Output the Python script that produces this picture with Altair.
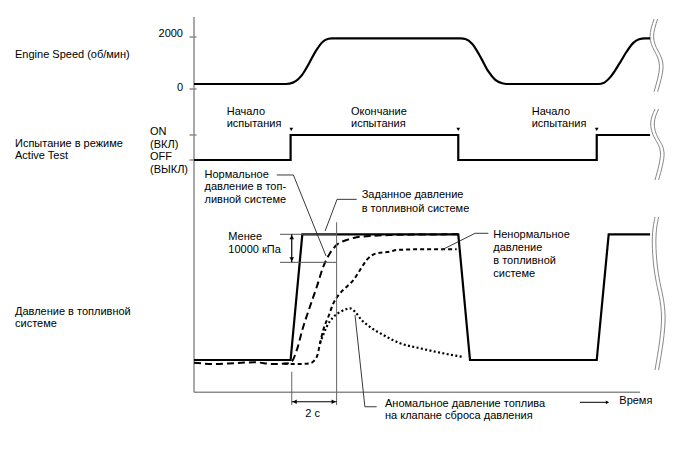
import altair as alt
import pandas as pd

FONT = "Liberation Sans"
GRAY = "#8c8c8c"

# ---------------- data (time in seconds) ----------------
# Engine speed, rpm
eng_t = [0, 4.0, 4.3, 4.7, 5.0, 5.3, 5.6, 5.85, 6.0, 11.6, 11.8, 12.1, 12.5, 12.8, 13.1,
         13.4, 13.6, 17.6, 17.8, 18.1, 18.5, 18.8, 19.1, 19.35, 19.6, 19.83]
eng_rpm = [0, 0, 60, 400, 900, 1450, 1850, 1980, 2000, 2000, 1970, 1750, 1100, 550, 180,
           30, 0, 0, 40, 300, 900, 1400, 1800, 1960, 2000, 2000]

# Active test state (0 = OFF, 1 = ON)
test_t = [0, 4.2, 4.2, 11.49, 11.49, 17.51, 17.51, 19.83]
test_on = [0, 0, 1, 1, 0, 0, 1, 1]
switch_t = [4.23, 11.49, 17.51]

# Fuel pressure, % of target
cmd_t = [0, 4.2, 4.71, 11.49, 12.0, 17.51, 18.03, 19.83]
cmd_p = [0, 0, 100, 100, 0, 0, 100, 100]

norm_t = [0, 0.87, 1.74, 2.61, 3.48, 4.17, 4.25, 4.47, 4.75, 5.04, 5.34, 5.62, 5.91,
          6.20, 6.64, 7.07, 7.65, 8.52, 9.83, 11.48]
norm_p = [-2.1, -3.2, -2.6, -1.8, -3.2, -2.4, -1.4, 8.0, 26.5, 42.4, 58.3, 74.2, 84.9,
          91.5, 95.5, 97.6, 98.6, 99.4, 99.8, 100]

abn_t = [3.9, 4.25, 4.61, 5.04, 5.34, 5.48, 5.62, 5.84, 6.06, 6.35, 6.64, 6.93, 7.22,
         7.51, 7.94, 8.52, 8.81, 9.83, 11.42]
abn_p = [-3.0, -3.2, -3.2, -2.6, 2.6, 13.3, 23.9, 34.4, 45.1, 53.1, 58.3, 63.6, 71.6,
         79.6, 84.9, 86.2, 87.5, 88.1, 88.1]

rel_t = [5.48, 5.77, 6.06, 6.35, 6.64, 6.78, 7.0, 7.29, 7.65, 8.23, 8.96, 9.83, 10.70, 11.64]
rel_p = [13.3, 26.5, 34.2, 38.2, 40.6, 41.1, 38.4, 31.8, 26.3, 19.9, 13.3, 9.3, 5.8, 2.6]

# Annotation geometry in data units (t, p)
band_t = [3.74, 6.20]
band_p = [100, 77.7]
meas_t = [4.25, 6.20]          # the "2 с" interval
leader_names = ["normal", "target", "abnormal", "relief"]
leader_t = [[3.60, 4.32, 5.74], [7.07, 6.22, 5.70], [12.80, 12.22, 10.77], [7.94, 7.43, 7.00]]
leader_p = [[147.2, 147.2, 82.7], [127.8, 127.8, 102.6], [100.8, 100.8, 87.5], [-37.2, -37.2, 35.8]]

# Texts
TXT_ENGINE = "Engine Speed (об/мин)"
TXT_TEST = "Испытание в режиме\nActive Test"
TXT_ONOFF = "ON\n(ВКЛ)\nOFF\n(ВЫКЛ)"
TXT_PRESS = "Давление в топливной\nсистеме"
TXT_START = "Начало\nиспытания"
TXT_END = "Окончание\nиспытания"
TXT_NORMAL = "Нормальное\nдавление в топ-\nливной системе"
TXT_TARGET = "Заданное давление\nв топливной системе"
TXT_LESS = "Менее\n10000 кПа"
TXT_ABN = "Ненормальное\nдавление\nв топливной\nсистеме"
TXT_REL = "Аномальное давление топлива\nна клапане сброса давления"
TXT_TIME = "Время"
TXT_2S = "2 с"
TICK_2000 = "2000"
TICK_0 = "0"

# ---------------- scales ----------------
xs = alt.Scale(domain=[0, 20], range=[194, 654])
eng_y = alt.Scale(domain=[0, 2000], range=[84, 38.3])
test_y = alt.Scale(domain=[0, 1], range=[160, 135])
p_y = alt.Scale(domain=[0, 100], range=[360, 234.3])
px_x = alt.Scale(domain=[0, 688], range=[0, 688])
px_y = alt.Scale(domain=[0, 463], range=[0, 463])


def df(t, v):
    return pd.DataFrame({"t": t, "v": v, "i": list(range(len(t)))})


def series(t, v, yscale, dash=None, width=2.0, interp="linear", color="black"):
    kw = dict(color=color, strokeWidth=width, interpolate=interp)
    if dash:
        kw["strokeDash"] = dash
    return alt.Chart(df(t, v)).mark_line(**kw).encode(
        x=alt.X("t:Q", scale=xs, axis=None),
        y=alt.Y("v:Q", scale=yscale, axis=None),
        order="i:Q",
    )


def label(text, x, y, align="left", lh=12.7):
    return alt.Chart(pd.DataFrame({"label": [text]})).mark_text(
        align=align, baseline="alphabetic", font=FONT, fontSize=11,
        lineBreak="\n", lineHeight=lh, color="black"
    ).encode(x=alt.value(x), y=alt.value(y), text="label:N")


def prule(x, y, x2=None, y2=None, color=GRAY, width=1.5):
    enc = dict(x=alt.value(x), y=alt.value(y))
    enc["x2"] = alt.value(x2 if x2 is not None else x)
    enc["y2"] = alt.value(y2 if y2 is not None else y)
    return alt.Chart(pd.DataFrame({"a": [0]})).mark_rule(color=color, strokeWidth=width).encode(**enc)


layers = []

# Frame (axes)
layers.append(prule(194, 17, y2=392.3))
layers.append(prule(194, 392.3, x2=640))
for ty in [37, 89, 135, 160]:
    layers.append(prule(189.5, ty, x2=196.5))

# Break symbols (decoration), px coordinates
break_x = [[654, 650, 654.5, 659.5, 654], [655, 650.7, 654.5, 660.5, 655],
           [655, 652.3, 655.5, 661.5, 655]]
break_y = [[19, 36.7, 51, 66.7, 91.7], [109, 123, 138, 153, 180],
           [217, 240, 278, 317, 370]]
rows = []
for k, (bx, by) in enumerate(zip(break_x, break_y)):
    for off in (0, 3.6):
        for j, (a, b) in enumerate(zip(bx, by)):
            rows.append({"x": a + off, "y": b, "g": f"{k}-{off}", "i": j})
layers.append(
    alt.Chart(pd.DataFrame(rows)).mark_line(color="#7a7a7a", strokeWidth=0.9, interpolate="natural").encode(
        x=alt.X("x:Q", scale=px_x, axis=None),
        y=alt.Y("y:Q", scale=px_y, axis=None),
        detail="g:N",
        order="i:Q",
    )
)

# Series
layers.append(series(eng_t, eng_rpm, eng_y, interp="monotone", width=2.2))
layers.append(series(test_t, test_on, test_y, width=2.2))
layers.append(series(cmd_t, cmd_p, p_y, width=2.2))
layers.append(series(norm_t, norm_p, p_y, dash=[7, 4], width=2.0, interp="monotone"))
layers.append(series(abn_t, abn_p, p_y, dash=[4, 3], width=2.0, interp="monotone"))
layers.append(series(rel_t, rel_p, p_y, dash=[2, 2.4], width=2.2, interp="monotone"))

# Test switch markers
layers.append(
    alt.Chart(pd.DataFrame({"t": switch_t})).mark_point(
        shape="triangle-down", filled=True, color="black", size=14, opacity=1
    ).encode(x=alt.X("t:Q", scale=xs, axis=None), y=alt.value(129.3))
)

# Tolerance band lines
band_rows = pd.DataFrame({"p": band_p, "t1": [band_t[0]] * 2, "t2": [band_t[1]] * 2})
layers.append(
    alt.Chart(band_rows).mark_rule(color="#555", strokeWidth=1).encode(
        x=alt.X("t1:Q", scale=xs, axis=None), x2="t2:Q",
        y=alt.Y("p:Q", scale=p_y, axis=None),
    )
)
# Double arrow for 10000 kPa
layers.append(
    alt.Chart(pd.DataFrame({"t": [meas_t[0]], "p1": [band_p[0]], "p2": [band_p[1]]})).mark_rule(
        color="black", strokeWidth=1.2).encode(
        x=alt.X("t:Q", scale=xs, axis=None),
        y=alt.Y("p1:Q", scale=p_y, axis=None), y2="p2:Q",
    )
)
layers.append(
    alt.Chart(pd.DataFrame({"t": [meas_t[0]], "p": [band_p[0]]})).mark_point(
        shape="triangle-up", filled=True, color="black", size=22, opacity=1, yOffset=3
    ).encode(x=alt.X("t:Q", scale=xs, axis=None), y=alt.Y("p:Q", scale=p_y, axis=None))
)
layers.append(
    alt.Chart(pd.DataFrame({"t": [meas_t[0]], "p": [band_p[1]]})).mark_point(
        shape="triangle-down", filled=True, color="black", size=22, opacity=1, yOffset=-3
    ).encode(x=alt.X("t:Q", scale=xs, axis=None), y=alt.Y("p:Q", scale=p_y, axis=None))
)

# Measurement verticals and 2 s arrow
vert = pd.DataFrame({"t": meas_t, "p1": [-9.3, 109.6], "p2": [-35.8, -35.8]})
layers.append(
    alt.Chart(vert).mark_rule(color="#666", strokeWidth=1).encode(
        x=alt.X("t:Q", scale=xs, axis=None),
        y=alt.Y("p1:Q", scale=p_y, axis=None), y2="p2:Q",
    )
)
layers.append(
    alt.Chart(pd.DataFrame({"t1": [meas_t[0]], "t2": [meas_t[1]], "p": [-33.2]})).mark_rule(
        color="black", strokeWidth=1.2).encode(
        x=alt.X("t1:Q", scale=xs, axis=None), x2="t2:Q",
        y=alt.Y("p:Q", scale=p_y, axis=None),
    )
)
layers.append(
    alt.Chart(pd.DataFrame({"t": [meas_t[0]], "p": [-33.2]})).mark_point(
        shape="triangle-left", filled=True, color="black", size=22, opacity=1, xOffset=3
    ).encode(x=alt.X("t:Q", scale=xs, axis=None), y=alt.Y("p:Q", scale=p_y, axis=None))
)
layers.append(
    alt.Chart(pd.DataFrame({"t": [meas_t[1]], "p": [-33.2]})).mark_point(
        shape="triangle-right", filled=True, color="black", size=22, opacity=1, xOffset=-3
    ).encode(x=alt.X("t:Q", scale=xs, axis=None), y=alt.Y("p:Q", scale=p_y, axis=None))
)

# Leader lines
lrows = []
for name, lt, lp in zip(leader_names, leader_t, leader_p):
    for j, (a, b) in enumerate(zip(lt, lp)):
        lrows.append({"t": a, "p": b, "g": name, "i": j})
layers.append(
    alt.Chart(pd.DataFrame(lrows)).mark_line(color="#222", strokeWidth=0.9).encode(
        x=alt.X("t:Q", scale=xs, axis=None),
        y=alt.Y("p:Q", scale=p_y, axis=None),
        detail="g:N",
        order="i:Q",
    )
)

# Time arrow
layers.append(prule(580, 402.3, x2=606, color="black", width=1))
layers.append(
    alt.Chart(pd.DataFrame({"a": [0]})).mark_point(
        shape="triangle-right", filled=True, color="black", size=14, opacity=1
    ).encode(x=alt.value(607.5), y=alt.value(402.3))
)

# Texts
layers += [
    label(TXT_ENGINE, 15, 57.5),
    label(TICK_2000, 183, 37),
    label(TICK_0, 183, 90.5, align="right"),
    label(TXT_TEST, 15, 147.3, lh=12),
    label(TXT_ONOFF, 150, 135, lh=12.6),
    label(TXT_PRESS, 15, 315, lh=12),
    label(TXT_START, 226.7, 115, lh=11.8),
    label(TXT_END, 351, 115, lh=11.8),
    label(TXT_START, 531.7, 115, lh=11.8),
    label(TXT_NORMAL, 204.5, 177.7, lh=12.8),
    label(TXT_TARGET, 361.7, 198.3, lh=13.3),
    label(TXT_LESS, 228.3, 240, lh=13.3),
    label(TXT_ABN, 493.3, 237.7, lh=13.2),
    label(TXT_REL, 385, 407.3, lh=12),
    label(TXT_TIME, 619.3, 404),
    label(TXT_2S, 312.7, 416.7, align="center"),
]
layers[-15] = label(TICK_2000, 183, 37, align="right")

chart = alt.layer(*layers).resolve_scale(x="independent", y="independent").properties(
    width=688, height=463, padding=0, autosize=alt.AutoSizeParams(type="none"),
    background="white",
).configure_view(stroke=None)

chart.save("out.html", embed_options={"renderer": "svg", "actions": False})
